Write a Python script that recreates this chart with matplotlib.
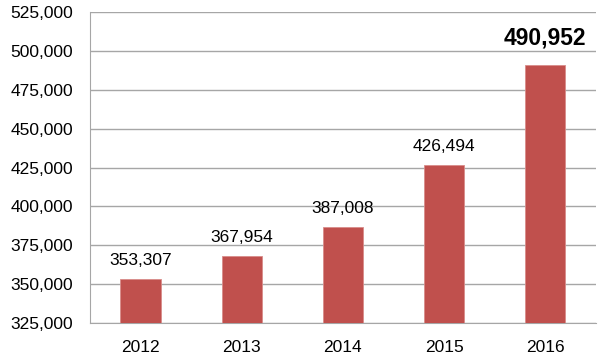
import matplotlib.pyplot as plt
from matplotlib.ticker import FuncFormatter

plt.rcParams['font.family'] = ['Liberation Sans', 'DejaVu Sans']

years = ["2012", "2013", "2014", "2015", "2016"]
values = [353307, 367954, 387008, 426494, 490952]
ticks = [325000, 350000, 375000, 400000, 425000, 450000, 475000, 500000, 525000]

fig = plt.figure(figsize=(6, 3.63), dpi=100)
ax = fig.add_axes([0.15, 0.11, 0.843, 0.857])

x = range(len(years))
ax.bar(x, values, width=0.4, color="#C0504D", edgecolor="#D98C8A", linewidth=0.6, zorder=3)

ax.set_xlim(-0.5, 4.5)
ax.set_ylim(325000, 525000)
ax.set_yticks(ticks)
ax.yaxis.set_major_formatter(FuncFormatter(lambda v, p: f"{int(v):,}"))
ax.set_xticks(list(x))
ax.set_xticklabels(years)

ax.grid(axis="y", color="#A6A6A6", linewidth=1, zorder=0)
for s in ["top", "right"]:
    ax.spines[s].set_visible(False)
ax.spines["left"].set_color("#A6A6A6")
ax.spines["bottom"].set_color("#A6A6A6")
ax.tick_params(axis="both", length=0, labelsize=12.5, colors="black")
ax.tick_params(axis="y", pad=12)
ax.tick_params(axis="x", pad=12)

for i, v in enumerate(values):
    if i == len(values) - 1:
        ax.annotate(f"{v:,}", (i, v), xytext=(0, 11), textcoords="offset points",
                    ha="center", va="bottom", fontsize=16.5, fontweight="semibold")
    else:
        ax.annotate(f"{v:,}", (i, v), xytext=(0, 8), textcoords="offset points",
                    ha="center", va="bottom", fontsize=12.5)

fig.savefig("out.png", dpi=100)
plt.close(fig)
